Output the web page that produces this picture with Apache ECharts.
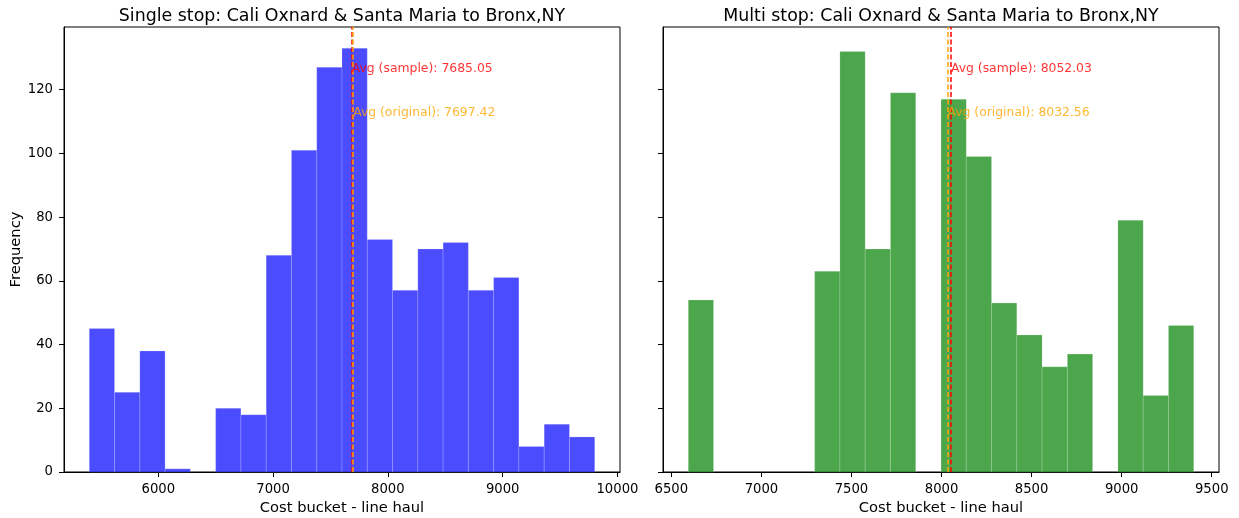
<!DOCTYPE html>
<html>
<head>
<meta charset="utf-8">
<script src="https://cdn.jsdelivr.net/npm/echarts@6/dist/echarts.min.js"></script>
<style>
html,body{margin:0;padding:0;background:#fff;}
#chart{width:1239px;height:518px;}
</style>
</head>
<body>
<div id="chart"></div>
<script>
// ---- data ----
const leftTitle = 'Single stop: Cali Oxnard & Santa Maria to Bronx,NY';
const rightTitle = 'Multi stop: Cali Oxnard & Santa Maria to Bronx,NY';
const xAxisName = 'Cost bucket - line haul';
const yAxisName = 'Frequency';

// histogram counts (20 bins each)
const leftCounts = [45, 25, 38, 1, 0, 20, 18, 68, 101, 127, 133, 73, 57, 70, 72, 57, 61, 8, 15, 11];
const leftRange = [5399, 9802];          // min / max cost of single stop data
const rightCounts = [54, 0, 0, 0, 0, 63, 132, 70, 119, 0, 117, 99, 53, 43, 33, 37, 0, 79, 24, 46];
const rightRange = [6594, 9400];         // min / max cost of multi stop data

const leftAvgSample = 7685.05;
const leftAvgOriginal = 7697.42;
const rightAvgSample = 8052.03;
const rightAvgOriginal = 8032.56;

const leftXTicks = [6000, 7000, 8000, 9000, 10000];
const rightXTicks = [6500, 7000, 7500, 8000, 8500, 9000, 9500];
const yTicks = [0, 20, 40, 60, 80, 100, 120];

// ---- helpers ----
function binItems(counts, range) {
  const n = counts.length;
  const w = (range[1] - range[0]) / n;
  return counts.map((c, i) => [range[0] + i * w, range[0] + (i + 1) * w, c]);
}
function pad(range, frac) {
  const d = (range[1] - range[0]) * frac;
  return [range[0] - d, range[1] + d];
}
const leftBins = binItems(leftCounts, leftRange);
const rightBins = binItems(rightCounts, rightRange);
const leftX = pad(leftRange, 0.05);
const rightX = pad(rightRange, 0.05);
const yMax = Math.max(...leftCounts, ...rightCounts) * 1.05;

const FONT = 'DejaVu Sans';
const BLUE = 'rgba(0,0,255,0.7)';
const GREEN = 'rgba(0,128,0,0.7)';

function histSeries(idx, data, color) {
  return {
    type: 'custom',
    xAxisIndex: idx, yAxisIndex: idx,
    encode: {x: [0, 1], y: 2},
    data: data,
    renderItem: function (params, api) {
      const x0 = api.value(0), x1 = api.value(1), h = api.value(2);
      if (!h) return null;
      const p0 = api.coord([x0, h]);
      const p1 = api.coord([x1, 0]);
      return {
        type: 'rect',
        shape: {x: p0[0], y: p0[1], width: p1[0] - p0[0], height: p1[1] - p0[1]},
        style: {fill: color, stroke: 'rgba(255,255,255,0.18)', lineWidth: 1}
      };
    },
    z: 2
  };
}

function avgSeries(idx, avgSample, avgOriginal) {
  return {
    type: 'scatter',
    xAxisIndex: idx, yAxisIndex: idx,
    symbolSize: 0,
    silent: true,
    z: 5,
    data: [
      {value: [avgSample, yMax * 0.9],
       label: {show: true, color: '#ff0000', formatter: 'Avg (sample): ' + avgSample.toFixed(2)}},
      {value: [avgOriginal, yMax * 0.8],
       label: {show: true, color: '#ffa500', formatter: 'Avg (original): ' + avgOriginal.toFixed(2)}}
    ],
    label: {
      show: true, position: [0, 0], align: 'left', verticalAlign: 'bottom',
      offset: [0, 3],
      fontFamily: FONT, fontSize: 12.4
    },
    markLine: {
      silent: true,
      symbol: ['none', 'none'],
      label: {show: false},
      animation: false,
      data: [
        {xAxis: avgSample, lineStyle: {color: '#ff0000', type: [5, 2.5], width: 1.5}},
        {xAxis: avgOriginal, lineStyle: {color: '#ffa500', type: [5, 2.5], width: 1.5}}
      ]
    }
  };
}

const plain = v => String(Math.round(v));

function xAxisCfg(idx, ext, ticks) {
  return {
    type: 'value', gridIndex: idx,
    min: ext[0], max: ext[1],
    name: xAxisName, nameLocation: 'middle', nameGap: 26,
    nameTextStyle: {fontFamily: FONT, fontSize: 14.7, color: '#000'},
    axisLine: {show: true, onZero: false, lineStyle: {color: '#000', width: 1}},
    axisTick: {show: true, length: 5, inside: false, customValues: ticks, lineStyle: {color: '#000'}},
    axisLabel: {show: true, customValues: ticks, formatter: plain, margin: 11, fontFamily: FONT, fontSize: 13.2, color: '#000'},
    splitLine: {show: false}
  };
}
function yAxisCfg(idx, showLabels) {
  return {
    type: 'value', gridIndex: idx,
    min: 0, max: yMax,
    name: showLabels ? yAxisName : '', nameLocation: 'middle', nameGap: 39,
    nameTextStyle: {fontFamily: FONT, fontSize: 14.7, color: '#000'},
    axisLine: {show: true, lineStyle: {color: '#000', width: 1}},
    axisTick: {show: true, length: 5, customValues: yTicks, lineStyle: {color: '#000'}},
    axisLabel: {show: showLabels, customValues: yTicks, formatter: plain, margin: 11, fontFamily: FONT, fontSize: 13.2, color: '#000'},
    splitLine: {show: false}
  };
}

const chart = echarts.init(document.getElementById('chart'), null, {renderer: 'canvas'});
chart.setOption({
  animation: false,
  backgroundColor: '#fff',
  title: [
    {text: leftTitle, left: 342, top: 8, textAlign: 'center', padding: 0,
     textStyle: {fontFamily: FONT, fontSize: 17.4, fontWeight: 'normal', color: '#000'}},
    {text: rightTitle, left: 941, top: 8, textAlign: 'center', padding: 0,
     textStyle: {fontFamily: FONT, fontSize: 17.4, fontWeight: 'normal', color: '#000'}}
  ],
  grid: [
    {left: 64, right: 619, top: 27, bottom: 46, show: true, borderColor: '#000', borderWidth: 1, backgroundColor: 'transparent', containLabel: false, outerBoundsMode: 'none'},
    {left: 663, right: 20, top: 27, bottom: 46, show: true, borderColor: '#000', borderWidth: 1, backgroundColor: 'transparent', containLabel: false, outerBoundsMode: 'none'}
  ],
  xAxis: [xAxisCfg(0, leftX, leftXTicks), xAxisCfg(1, rightX, rightXTicks)],
  yAxis: [yAxisCfg(0, true), yAxisCfg(1, false)],
  series: [
    histSeries(0, leftBins, BLUE),
    histSeries(1, rightBins, GREEN),
    avgSeries(0, leftAvgSample, leftAvgOriginal),
    avgSeries(1, rightAvgSample, rightAvgOriginal)
  ]
});
</script>
</body>
</html>
